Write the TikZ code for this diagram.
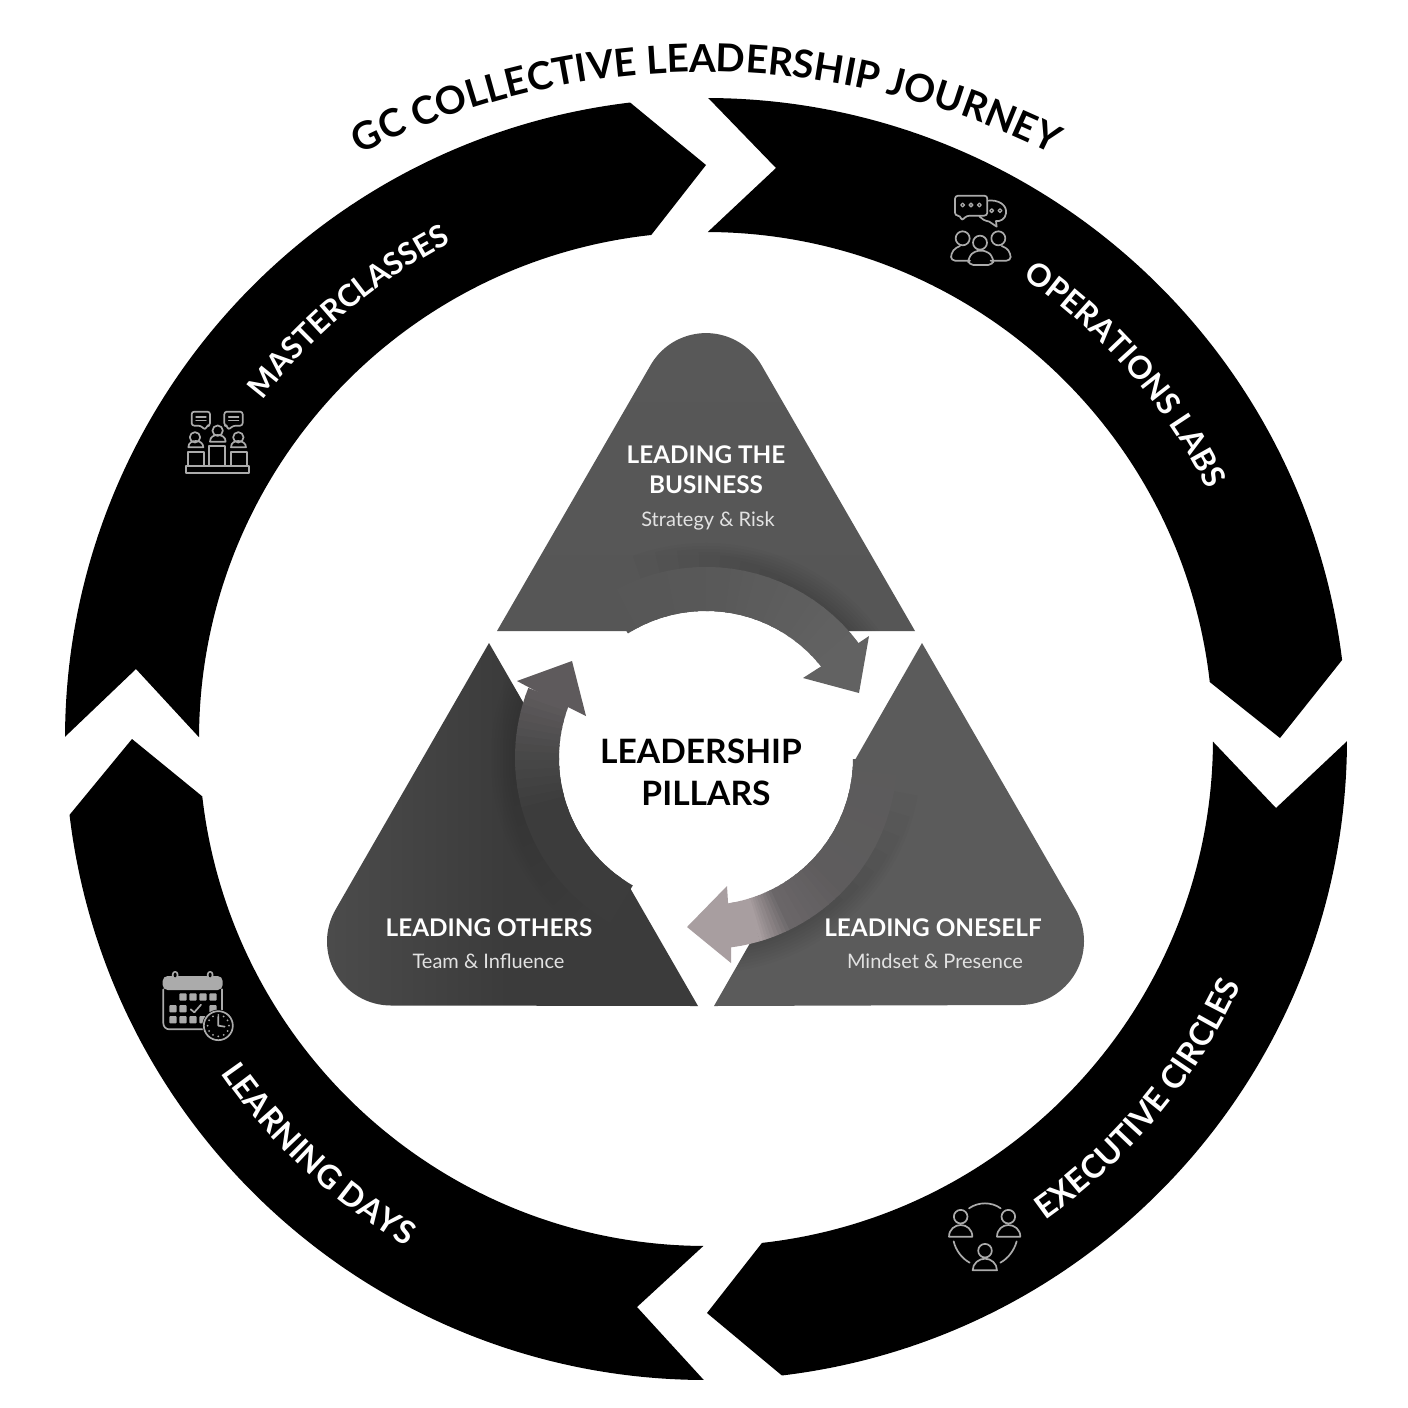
\documentclass[tikz,border=0pt]{standalone}
\usepackage{fontspec}
\setmainfont{Lato}
\usetikzlibrary{decorations.text}
\definecolor{icon}{HTML}{ABABAB}
\definecolor{topa}{HTML}{585858}
\definecolor{topb}{HTML}{565656}
\definecolor{lefta}{HTML}{4C4C4C}
\definecolor{leftb}{HTML}{3B3B3B}
\definecolor{righta}{HTML}{5B5B5B}
\definecolor{subt}{HTML}{E2E2E2}
\definecolor{tc}{HTML}{626262}
\definecolor{ra}{HTML}{5B5B5B}\definecolor{rb}{HTML}{5E5C5D}\definecolor{rc}{HTML}{6A6668}\definecolor{rd}{HTML}{8F8789}\definecolor{re}{HTML}{A89EA0}
\definecolor{la}{HTML}{3C3C3C}\definecolor{lb}{HTML}{484848}\definecolor{lc}{HTML}{5E5A5C}
\tikzset{
  ringseg/.style={fill=black,draw=none},
  iconline/.style={draw=icon,line width=1.7pt,line join=round,line cap=round},
  iconfill/.style={fill=icon,draw=none},
  headtext/.style={text=white,font=\fontsize{24.3}{30}\selectfont\bfseries,align=center,inner sep=0pt},
  subhead/.style={text=subt,font=\fontsize{20}{24}\selectfont,align=center,inner sep=0pt},
  centertext/.style={text=black,font=\fontsize{33.6}{42}\selectfont\bfseries,align=center,inner sep=0pt}
}
\newcommand{\gradband}[5]{% start, end, colA, colB, steps
  \foreach \myi in {1,...,#5}{
    \pgfmathsetmacro\myang{#1+(#2-#1)*(\myi-1)/#5}
    \pgfmathsetmacro\mydel{(#2-#1)/#5*1.25}
    \pgfmathsetmacro\mypct{100*\myi/#5}
    \draw[line width=44pt,color={#4!\mypct!#3}] (\myang:169) arc[start angle=\myang,delta angle=\mydel,radius=169];
  }
}
\newcommand{\arctext}[6]{% start,end,radius,font,color,text
  \path[decorate,decoration={text along path,text align=center,text={|#4\color{#5}|#6}}] (#1:#3) arc[start angle=#1,end angle=#2,radius=#3];
}
\newcommand{\toppath}{(497,-631) -- (650.6,-365.1) arc[start angle=150,end angle=30,radius=64] -- (915,-631) -- cycle}
\newcommand{\leftpath}{(489,-643) -- (335.6,-909.5) arc[start angle=150,end angle=270,radius=64] -- (698,-1006) -- cycle}
\newcommand{\rightpath}{(922,-643) -- (714,-1006) -- (1020,-1005) arc[start angle=-90,end angle=30,radius=64] -- cycle}
\begin{document}
\begin{tikzpicture}[x=1pt,y=1pt]
\useasboundingbox (0,0) rectangle (1408,-1408);
\fill[white] (0,0) rectangle (1408,-1408);
% ring
\coordinate (n1) at (776,-168); \coordinate (t1) at (1280,-738);
\coordinate (n2) at (1276,-808); \coordinate (t2) at (707,-1313);
\coordinate (n3) at (637,-1307); \coordinate (t3) at (132,-739);
\coordinate (n4) at (136,-669); \coordinate (t4) at (706,-165);
\begin{scope}[shift={(706,-739)}]
\fill[ringseg] (89.8:641) arc[start angle=89.8,end angle=7.08,radius=641] -- (t1) -- (6.45:507) arc[start angle=6.45,end angle=89.8,radius=507] -- (n1) -- cycle;
\fill[ringseg] (-0.2:641) arc[start angle=-0.2,end angle=-83.2,radius=641] -- (t2) -- (-83.66:507) arc[start angle=-83.66,end angle=-0.3,radius=507] -- (n2) -- cycle;
\fill[ringseg] (-90.2:641) arc[start angle=-90.2,end angle=-173.2,radius=641] -- (t3) -- (-173.5:507) arc[start angle=-173.5,end angle=-90.3,radius=507] -- (n3) -- cycle;
\fill[ringseg] (179.8:641) arc[start angle=179.8,end angle=96.8,radius=641] -- (t4) -- (96.2:507) arc[start angle=96.2,end angle=179.8,radius=507] -- (n4) -- cycle;
\def\lblf{\fontsize{30.6}{31}\selectfont\bfseries}
\def\lblg{\fontsize{31.5}{32}\selectfont\bfseries}
\def\lblh{\fontsize{32.4}{33}\selectfont\bfseries}
\arctext{159.9}{99.9}{558}{\lblf}{white}{MASTERCLASSES}
\arctext{66}{16}{560}{\lblg}{white}{OPERATIONS LABS}
\arctext{-80}{0.5}{589}{\lblh}{white}{EXECUTIVE CIRCLES}
\arctext{-175}{-91}{589}{\lblh}{white}{LEARNING DAYS}
\end{scope}
% title
\begin{scope}[shift={(706,-842)}]
\def\ttlf{\fontsize{38.5}{39}\selectfont\bfseries}
\arctext{120}{60}{770}{\ttlf}{black}{GC COLLECTIVE LEADERSHIP JOURNEY}
\end{scope}
% triangles
\shade[top color=topa,bottom color=topb] \toppath;
\shade[left color=lefta,right color=leftb,middle color=leftb] \leftpath;
\fill[righta] \rightpath;
% shadows
\begin{scope}
\clip \toppath \leftpath \rightpath;
\begin{scope}[shift={(706,-758)}]
\foreach \w in {6,12,...,48}{
  \pgfmathsetmacro\sa{110-48+\w}
  \pgfmathsetmacro\sb{-10-48+\w}
  \pgfmathsetmacro\sc{230-48+\w}
  \draw[black,opacity=.014,line width=\w pt] (\sa:191) arc[start angle=\sa,end angle=30,radius=191];
  \draw[black,opacity=.014,line width=\w pt] (\sb:191) arc[start angle=\sb,end angle=-85,radius=191];
  \draw[black,opacity=.014,line width=\w pt] (\sc:191) arc[start angle=\sc,end angle=150,radius=191];
}
\end{scope}
\end{scope}
% inner circle, bands
\begin{scope}[shift={(706,-758)}]
\fill[white] (0,0) circle (147pt);
\gradband{122}{90}{topb}{topa}{8}
\gradband{90}{37.5}{topa}{tc}{14}
\gradband{-0.5}{-45}{ra}{rb}{10}
\gradband{-45}{-64}{rb}{rc}{8}
\gradband{-64}{-70}{rc}{rd}{5}
\gradband{-70}{-73.5}{rd}{re}{4}
\gradband{-73.5}{-82}{re}{re}{3}
\gradband{240}{195}{la}{la}{8}
\gradband{195}{178}{la}{lb}{6}
\gradband{178}{159}{lb}{lc}{8}
\end{scope}
\coordinate (hta) at (854,-646); \coordinate (htb) at (869,-636); \coordinate (htc) at (859,-693); \coordinate (htd) at (803,-678); \coordinate (hte) at (817,-669);
\fill[tc] (hta) -- (htb) -- (htc) -- (htd) -- (hte) -- cycle;
\coordinate (hra) at (728,-902); \coordinate (hrb) at (727,-886); \coordinate (hrc) at (687,-927); \coordinate (hrd) at (731,-963); \coordinate (hre) at (731,-946);
\fill[re] (hra) -- (hrb) -- (hrc) -- (hrd) -- (hre) -- cycle;
\coordinate (hla) at (532,-689); \coordinate (hlb) at (517,-681); \coordinate (hlc) at (572,-661); \coordinate (hld) at (586,-716); \coordinate (hle) at (572,-709);
\fill[lc] (hla) -- (hlb) -- (hlc) -- (hld) -- (hle) -- cycle;
% texts
\node[centertext] (cen) at (701,-772) {LEADERSHIP\\\hspace*{10pt}PILLARS};
\node[headtext] (ltb) at (706,-470) {LEADING THE\\BUSINESS};
\node[subhead] (ltbs) at (708,-521) {Strategy \& Risk};
\node[headtext] (lot) at (489,-928) {LEADING OTHERS};
\node[subhead] (lots) at (488.5,-961) {Team \& Influence};
\node[headtext] (los) at (933,-928) {LEADING ONESELF};
\node[subhead] (loss) at (935,-961) {Mindset \& Presence};
% icon 1: operations labs
\begin{scope}[shift={(920,-170)},x=.3333pt,y=-.3333pt]
\draw[iconline,rounded corners=3pt] (202,137) -- (202,77) -- (105,77) -- (105,137) -- (122,137) -- (124,153) -- (140,137) -- cycle;
\draw[iconline] (203,92) .. controls (235,88) and (262,105) .. (258,130) .. controls (256,148) and (240,155) .. (228,153) -- (230,170) -- (208,155) .. controls (195,152) and (185,148) .. (178,139);
\foreach \px in {128,153,178} \draw[iconline,line width=1.3pt] (\px,105) circle (1.9pt);
\foreach \px in {215,240} \draw[iconline,line width=1.3pt] (\px,122) circle (1.9pt);
\draw[iconline] (128,205) circle (7pt);
\draw[iconline] (235,205) circle (7pt);
\draw[iconline] (180,218) circle (7pt);
\draw[iconline,rounded corners=4pt] (150,272) -- (93,272) -- (93,250) -- (108,232) -- (120,228);
\draw[iconline,rounded corners=4pt] (212,272) -- (272,272) -- (272,250) -- (258,232) -- (245,228);
\draw[iconline,rounded corners=5pt] (145,285) -- (220,285) -- (220,262) -- (200,242) -- (165,242) -- (145,262) -- cycle;
\end{scope}
% icon 2: masterclasses
\begin{scope}[shift={(170,-395)},x=.3333pt,y=-.3333pt]
\draw[iconline,rounded corners=2.5pt] (65,50) -- (120,50) -- (120,92) -- (110,92) -- (106,105) -- (92,92) -- (65,92) -- cycle;
\draw[iconline,rounded corners=2.5pt] (163,50) -- (218,50) -- (218,92) -- (190,92) -- (174,105) -- (172,92) -- (163,92) -- cycle;
\foreach \py in {66,76} {\draw[iconline,line width=1.3pt] (78,\py) -- (108,\py); \draw[iconline,line width=1.3pt] (176,\py) -- (206,\py);}
\draw[iconline] (75,127) circle (5.2pt);
\draw[iconline] (143,107) circle (5.2pt);
\draw[iconline] (205,127) circle (5.2pt);
\draw[iconline] (55,157) .. controls (55,142) and (68,138) .. (78,138) .. controls (90,138) and (100,145) .. (100,157) -- cycle;
\draw[iconline] (120,140) .. controls (120,125) and (132,120) .. (143,120) .. controls (155,120) and (167,126) .. (167,140) -- cycle;
\draw[iconline] (183,157) .. controls (183,142) and (195,138) .. (205,138) .. controls (217,138) and (228,145) .. (228,157) -- cycle;
\draw[iconline] (53,212) -- (53,172) -- (102,172) -- (102,212);
\draw[iconline] (118,212) -- (118,152) -- (165,152) -- (165,212);
\draw[iconline] (182,212) -- (182,172) -- (230,172) -- (230,212);
\draw[iconline] (47,212) rectangle (238,235);
\end{scope}
% icon 3: learning days
\begin{scope}[shift={(150,-960)},x=.3333pt,y=-.3333pt]
\fill[icon,rounded corners=5pt] (38,90) -- (38,48) -- (218,48) -- (218,90) -- cycle;
\draw[iconline,rounded corners=6pt] (40,88) -- (40,208) -- (170,208);
\draw[iconline] (216,88) -- (216,150);
\fill[icon,rounded corners=3pt] (66,62) -- (66,33) -- (85,33) -- (85,62) -- cycle;
\fill[icon,rounded corners=3pt] (171,62) -- (171,33) -- (190,33) -- (190,62) -- cycle;
\fill[black,rounded corners=2pt] (71,52) -- (71,38) -- (80,38) -- (80,52) -- cycle;
\fill[black,rounded corners=2pt] (176,52) -- (176,38) -- (185,38) -- (185,52) -- cycle;
\foreach \px/\py in {88/100,118/100,148/100,178/100,58/135,88/135,178/135,58/168,88/168,118/168,148/168}
  \fill[icon,rounded corners=1pt] (\px,\py) rectangle ++(22,22);
\draw[iconline] (122,148) -- (133,157) -- (153,134);
\fill[black] (205,197) circle (16pt);
\draw[iconline] (205,197) circle (14.5pt);
\begin{scope}[shift={(205,197)}]
\foreach \a in {0,30,...,330} \fill[icon] (\a:32) circle (1pt);
\end{scope}
\draw[iconline] (205,170) -- (205,197) -- (224,200);
\end{scope}
% icon 4: executive circles
\begin{scope}[shift={(935,-1190)},x=.3333pt,y=-.3333pt]
\draw[iconline] (77,80) circle (6.8pt);
\draw[iconline] (220,80) circle (6.8pt);
\draw[iconline] (150,182) circle (6.8pt);
\draw[iconline] (42,140) .. controls (42,118) and (60,105) .. (77,105) .. controls (95,105) and (112,118) .. (112,140) -- cycle;
\draw[iconline] (186,140) .. controls (186,118) and (203,105) .. (220,105) .. controls (238,105) and (256,118) .. (256,140) -- cycle;
\draw[iconline] (113,241) .. controls (113,220) and (132,206) .. (150,206) .. controls (168,206) and (186,220) .. (186,241) -- cycle;
\draw[iconline] (102,55) .. controls (130,35) and (170,35) .. (197,55);
\draw[iconline] (56,154) .. controls (62,180) and (80,205) .. (104,218);
\draw[iconline] (245,154) .. controls (238,180) and (220,205) .. (196,218);
\end{scope}
\end{tikzpicture}
\end{document}
